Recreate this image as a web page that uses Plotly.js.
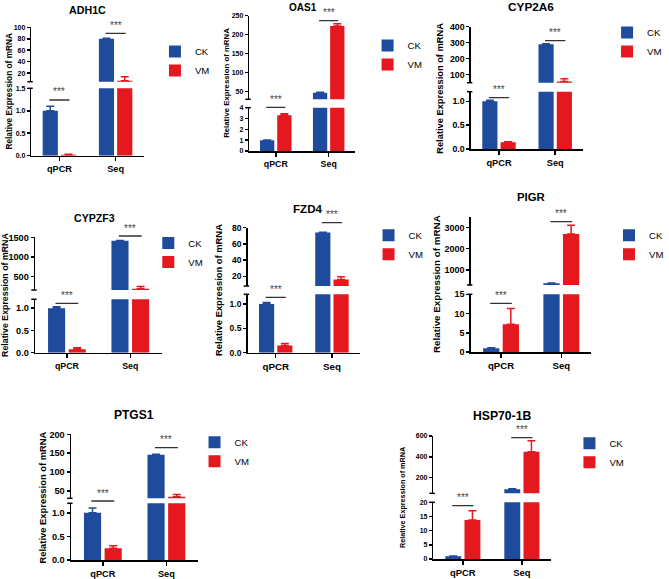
<!DOCTYPE html>
<html><head><meta charset="utf-8">
<script src="https://cdn.plot.ly/plotly-3.0.1.min.js"></script>
<style>html,body{margin:0;padding:0;background:#fff}</style>
</head><body><div id="chart" style="width:669px;height:579px"></div>
<script>
// ---------- data ----------
const genes = ['ADH1C','OAS1','CYP2A6','CYPZF3','FZD4','PIGR','PTGS1','HSP70-1B'];
const methods = ['qPCR','Seq'];
const groups = ['CK','VM'];
const ckQpcr    = [1.0, 1.0, 1.0, 1.0, 1.0, 1.0, 1.0, 1.0];
const ckQpcrErr = [0.1, 0.02, 0.02, 0.03, 0.03, 0.1, 0.1, 0.1];
const vmQpcr    = [0.02, 3.3, 0.14, 0.08, 0.15, 7.2, 0.25, 13.8];
const vmQpcrErr = [0.01, 0.15, 0.01, 0.03, 0.04, 4.1, 0.05, 3.2];
const ckSeq     = [80, 47, 291, 1410, 74, 380, 146, 90];
const ckSeqErr  = [1, 1.5, 2, 5, 0.5, 10, 1, 3];
const vmSeq     = [6.5, 223, 58, 180, 16, 2690, 34, 448];
const vmSeqErr  = [7, 6, 17, 60, 3.5, 410, 6, 107];
const lowerRange = [[0,1.5],[0,4],[0,1.2],[0,1.2],[0,1.2],[0,15],[0,1.2],[0,20]];
const lowerTicks = [[0,0.5,1,1.5],[0,1,2,3,4],[0,0.5,1],[0,0.5,1],[0,0.5,1],[0,5,10,15],[0,0.5,1],[0,5,10,15,20]];
const upperRange = [[5,100],[30,250],[50,400],[150,1500],[8,80],[300,3500],[30,200],[50,600]];
const upperTicks = [[20,40,60,80,100],[50,100,150,200,250],[100,200,300,400],[500,1000,1500],[20,40,60,80],[1000,2000,3000],[50,100,150,200],[200,400,600]];
const sigLabel = '***';
const yTitle = 'Relative Expression of mRNA';

// ---------- layout geometry (pixels) and text sizes ----------
const frameLeft   = [32, 255, 481.7, 36, 253.3, 481.7, 72.7, 443.3];
const frameRight  = [147, 363.3, 596.7, 165.7, 368.3, 605, 202.7, 564];
const upperTop    = [27.3, 15.7, 26.7, 237.3, 227.7, 216.7, 434.3, 436];
const upperBottom = [81.7, 99.3, 82.7, 290, 286, 285, 498.3, 493.3];
const lowerTop    = [88.3, 107.7, 91.7, 299.3, 294.3, 294.3, 503.3, 502.3];
const lowerBottom = [155.7, 151, 149, 352.7, 352.7, 352, 560, 559];
const titlePos  = [[90,10],[310,7],[543,7],[96.7,218.3],[315,208.3],[543.3,196.7],[136.7,415],[513.3,416]];
const yTitleX   = [8.3, 231.7, 450, 5, 222.7, 446.7, 43.3, 411.7];
const legendPos = [[175.5,61],[393,55],[638,42],[168.7,252.5],[394,244.7],[640,244.7],[216,451.7],[599.5,452.7]];
const sigY      = [[100,33.3],[107.3,20.7],[97.7,40.7],[303.3,236],[297.3,222.7],[303.3,221.7],[501,447.7],[505.7,437.7]];
const tickSize   = [7, 7, 8.8, 9.2, 8.5, 9, 9.2, 7];
const catSize    = [9.2, 8.8, 9.2, 8.8, 9.8, 9.6, 9.2, 9.4];
const yTitleSize = [8.3, 7.8, 9.3, 8.8, 9.4, 9.8, 9.4, 7.2];
const titleSize  = [10.7, 10, 11.8, 10.6, 11.6, 11.4, 12, 12.2];

const W = 669, H = 579;
const px = v => v / W;
const py = v => 1 - v / H;
const blue = '#1f4b9c', red = '#e5171f';
const FONT = 'Liberation Sans, Arial, Helvetica, sans-serif';

function barTrace(name, y, err, color, xa, ya, show, lg) {
  return {
    type: 'bar', name: name, x: methods, y: y, xaxis: xa, yaxis: ya,
    marker: {color: color, line: {width: 0}},
    error_y: {type: 'data', array: err, arrayminus: err.map(() => 0), symmetric: false,
              visible: true, color: color, thickness: 1.5, width: 4},
    showlegend: show, legend: lg, legendgroup: name + lg, hoverinfo: 'skip'
  };
}

const data = [];
const layout = {
  width: W, height: H, margin: {l: 0, r: 0, t: 0, b: 0},
  paper_bgcolor: '#ffffff', plot_bgcolor: 'rgba(0,0,0,0)',
  barmode: 'group', bargap: 0.35, bargroupgap: 0.17,
  font: {family: FONT, color: '#000'},
  annotations: [], shapes: []
};

const axisCommon = {
  showline: true, linewidth: 1.5, linecolor: '#000', showgrid: false, zeroline: false,
  ticks: 'outside', tickwidth: 1.5, tickcolor: '#000', fixedrange: true
};

genes.forEach((g, i) => {
  const n = i + 1;
  const xa = 'x' + (n === 1 ? '' : n);
  const loN = 2 * n - 1, upN = 2 * n;
  const yLo = 'y' + (loN === 1 ? '' : loN);
  const yUp = 'y' + upN;
  const lg = n === 1 ? 'legend' : 'legend' + n;
  const ck = [ckQpcr[i], ckSeq[i]], ckE = [ckQpcrErr[i], ckSeqErr[i]];
  const vm = [vmQpcr[i], vmSeq[i]], vmE = [vmQpcrErr[i], vmSeqErr[i]];

  data.push(barTrace(groups[0], ck, ckE, blue, xa, yLo, true, lg));
  data.push(barTrace(groups[1], vm, vmE, red, xa, yLo, true, lg));
  data.push(barTrace(groups[0], ck, ckE, blue, xa, yUp, false, lg));
  data.push(barTrace(groups[1], vm, vmE, red, xa, yUp, false, lg));

  layout['xaxis' + (n === 1 ? '' : n)] = Object.assign({}, axisCommon, {
    domain: [px(frameLeft[i]), px(frameRight[i])], anchor: yLo,
    type: 'category', range: [-0.5, 1.5], ticklen: 4,
    tickfont: {size: catSize[i], weight: 'bold', family: FONT}
  });
  const lowFmt = lowerTicks[i].some(v => v % 1 !== 0) ? '.1f' : 'd';
  layout['yaxis' + (loN === 1 ? '' : loN)] = Object.assign({}, axisCommon, {
    domain: [py(lowerBottom[i]), py(lowerTop[i])], anchor: xa,
    range: lowerRange[i], tickvals: lowerTicks[i], tickformat: lowFmt, ticklen: 3,
    tickfont: {size: tickSize[i], weight: 'bold', family: FONT}
  });
  layout['yaxis' + upN] = Object.assign({}, axisCommon, {
    domain: [py(upperBottom[i]), py(upperTop[i])], anchor: xa,
    range: upperRange[i], tickvals: upperTicks[i], tickformat: 'd', ticklen: 3,
    tickfont: {size: tickSize[i], weight: 'bold', family: FONT}
  });

  layout[lg] = {
    x: px(legendPos[i][0] - 17), y: py(legendPos[i][1]), xanchor: 'left', yanchor: 'middle',
    bgcolor: 'rgba(0,0,0,0)', font: {size: 9.6, family: FONT, color: '#000'},
    itemwidth: 30, tracegroupgap: 0
  };

  // axis-break marks
  [upperBottom[i], lowerTop[i]].forEach(yy => {
    layout.shapes.push({type: 'line', xref: 'paper', yref: 'paper',
      x0: px(frameLeft[i] - 4), x1: px(frameLeft[i] + 1.5), y0: py(yy), y1: py(yy),
      line: {color: '#000', width: 1.5}});
  });

  // significance bars
  [0, 1].forEach(j => {
    layout.shapes.push({type: 'line', xref: xa, yref: 'paper',
      x0: j - 0.18, x1: j + 0.18, y0: py(sigY[i][j]), y1: py(sigY[i][j]),
      line: {color: '#333', width: 1.3}});
    layout.annotations.push({xref: xa, yref: 'paper', x: j, y: py(sigY[i][j] - 0.5),
      text: sigLabel, showarrow: false, xanchor: 'center', yanchor: 'bottom',
      font: {size: 10, color: '#444', family: FONT}});
  });

  // panel title
  layout.annotations.push({xref: 'paper', yref: 'paper', x: px(titlePos[i][0]), y: py(titlePos[i][1]),
    text: g, showarrow: false, xanchor: 'center', yanchor: 'middle',
    font: {size: titleSize[i], weight: 'bold', family: FONT, color: '#000'}});
  // y title
  layout.annotations.push({xref: 'paper', yref: 'paper', x: px(yTitleX[i]),
    y: py((upperTop[i] + lowerBottom[i]) / 2), text: yTitle, textangle: -90,
    showarrow: false, xanchor: 'center', yanchor: 'middle',
    font: {size: yTitleSize[i], weight: 'bold', family: FONT, color: '#000'}});
});

Plotly.newPlot('chart', data, layout, {staticPlot: true, displayModeBar: false});
</script>
</body></html>
